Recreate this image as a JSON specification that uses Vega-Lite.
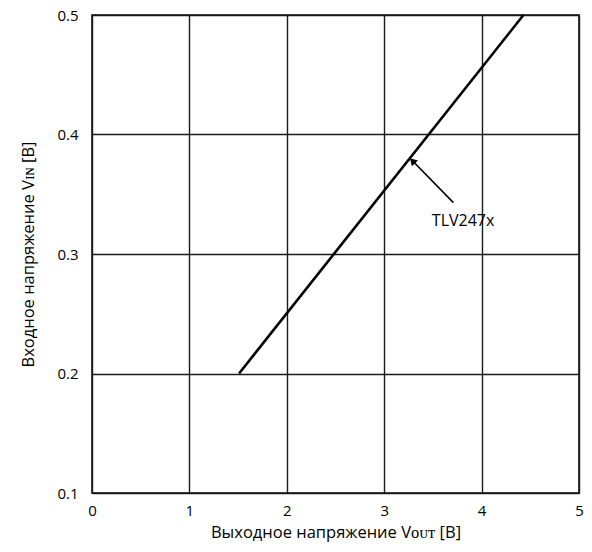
{
  "$schema": "https://vega.github.io/schema/vega-lite/v6.json",
  "width": 487,
  "height": 478,
  "autosize": {"type": "none"},
  "padding": {"left": 92, "top": 15, "right": 13, "bottom": 59},
  "background": "white",
  "config": {
    "view": {"stroke": "black", "strokeWidth": 1.5},
    "font": "Open Sans",
    "axis": {
      "grid": true,
      "gridColor": "#1a1a1a",
      "gridWidth": 1.4,
      "gridOpacity": 1,
      "domain": false,
      "ticks": false,
      "labelFont": "Open Sans",
      "labelFontSize": 15,
      "labelColor": "black",
      "titleFont": "Open Sans",
      "titleFontSize": 16.5,
      "titleFontWeight": "normal",
      "titleColor": "black"
    }
  },
  "datasets": {
    "curve": [
      {"vout": 1.51, "vin": 0.2},
      {"vout": 4.43, "vin": 0.5}
    ],
    "arrow": [
      {"x1": 3.71, "y1": 0.343, "x2": 3.29, "y2": 0.378}
    ],
    "label": [
      {"x": 3.81, "y": 0.328, "text": "TLV247x"}
    ]
  },
  "layer": [
    {
      "data": {"name": "curve"},
      "mark": {"type": "line", "color": "black", "strokeWidth": 2.6},
      "encoding": {
        "x": {
          "field": "vout",
          "type": "quantitative",
          "scale": {"domain": [0, 5], "nice": false, "zero": false},
          "axis": {
            "values": [0, 1, 2, 3, 4, 5],
            "format": "d",
            "labelPadding": 10,
            "labelFlush": false,
            "title": "Выходное напряжение Vᴏᴜᴛ [B]",
            "titlePadding": 6
          }
        },
        "y": {
          "field": "vin",
          "type": "quantitative",
          "scale": {"domain": [0.1, 0.5], "nice": false, "zero": false},
          "axis": {
            "values": [0.1, 0.2, 0.3, 0.4, 0.5],
            "format": ".1f",
            "labelPadding": 14,
            "labelFlush": false,
            "title": "Входное напряжение Vɪɴ [B]",
            "titlePadding": 20
          }
        }
      }
    },
    {
      "data": {"name": "arrow"},
      "mark": {"type": "rule", "color": "black", "strokeWidth": 1.6},
      "encoding": {
        "x": {"field": "x1", "type": "quantitative"},
        "y": {"field": "y1", "type": "quantitative"},
        "x2": {"field": "x2"},
        "y2": {"field": "y2"}
      }
    },
    {
      "data": {"name": "arrow"},
      "mark": {"type": "point", "shape": "triangle-up", "filled": true, "color": "black", "size": 70, "angle": 316, "opacity": 1},
      "encoding": {
        "x": {"field": "x2", "type": "quantitative"},
        "y": {"field": "y2", "type": "quantitative"}
      }
    },
    {
      "data": {"name": "label"},
      "mark": {"type": "text", "font": "Open Sans", "fontSize": 16, "color": "black", "align": "center", "baseline": "middle"},
      "encoding": {
        "x": {"field": "x", "type": "quantitative"},
        "y": {"field": "y", "type": "quantitative"},
        "text": {"field": "text"}
      }
    }
  ]
}
